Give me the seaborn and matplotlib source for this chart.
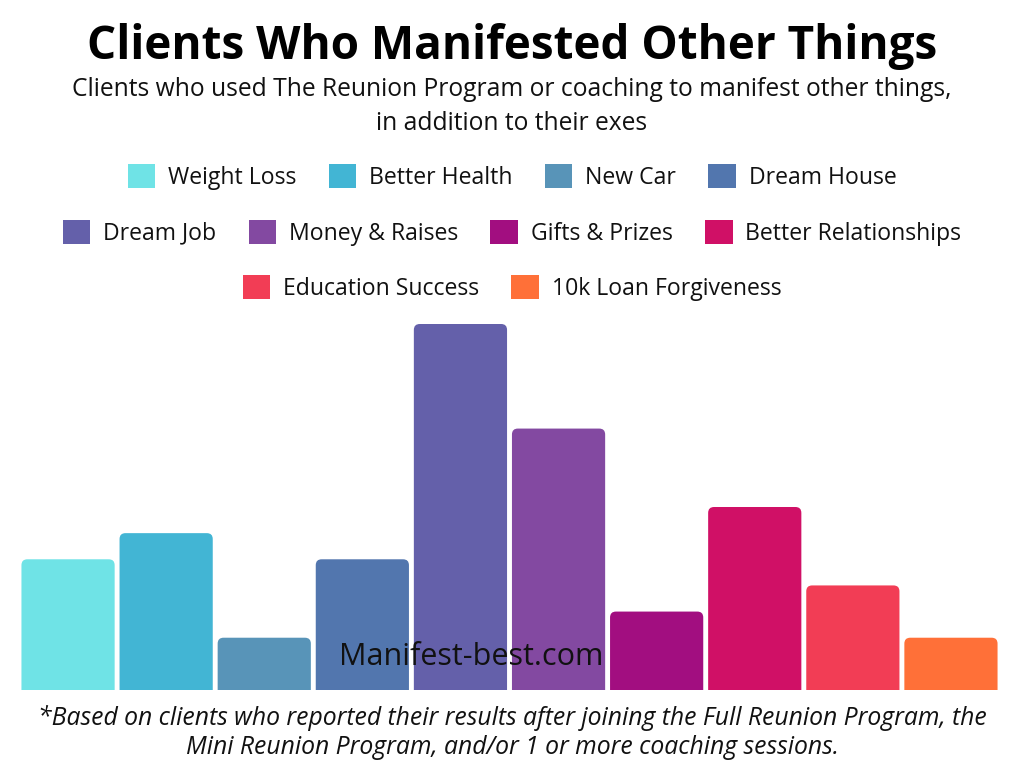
import matplotlib
matplotlib.use("Agg")
import matplotlib.pyplot as plt
import seaborn as sns
import pandas as pd
from matplotlib.patches import Patch, FancyBboxPatch

# data (relative units)
categories = ["Weight Loss", "Better Health", "New Car", "Dream House", "Dream Job",
              "Money & Raises", "Gifts & Prizes", "Better Relationships",
              "Education Success", "10k Loan Forgiveness"]
values = [5, 6, 2, 5, 14, 10, 3, 7, 4, 2]
colors = ["#6FE3E6", "#42B5D4", "#5894B8", "#5276AE", "#6460AA",
          "#8349A1", "#A20E80", "#D01066", "#F23D55", "#FF7038"]
legend_rows = [categories[0:4], categories[4:8], categories[8:10]]

df = pd.DataFrame({"category": categories, "value": values})

sns.set_theme(style="white")
plt.rcParams["font.family"] = ["Open Sans", "DejaVu Sans"]

fig = plt.figure(figsize=(10.24, 7.68), dpi=100)
ax = fig.add_axes([19 / 1024, 78 / 768, 981 / 1024, 366 / 768])

sns.barplot(data=df, x="category", y="value", hue="category", palette=colors,
            order=categories, hue_order=categories, width=0.95, legend=False,
            saturation=1, ax=ax)

ax.set_xlim(-0.5, len(categories) - 0.5)
ax.set_ylim(0, max(values))

# swap the plain rectangles for bars with slightly rounded tops
px_x = 981 / len(categories)
px_y = 366 / max(values)
for patch in list(ax.patches):
    x, w, h = patch.get_x(), patch.get_width(), patch.get_height()
    fc = patch.get_facecolor()
    patch.remove()
    ax.add_patch(FancyBboxPatch((x, -0.5), w, h + 0.5,
                                boxstyle="round,pad=0,rounding_size=0.06",
                                mutation_aspect=px_x / px_y,
                                facecolor=fc, edgecolor="none", clip_on=True))

ax.set_xlabel("")
ax.set_ylabel("")
ax.set_xticks([])
ax.set_yticks([])
sns.despine(ax=ax, left=True, bottom=True)

# titles
fig.text(0.5, 1 - 47 / 768, "Clients Who Manifested Other Things", ha="center", va="center",
         fontsize=33, fontweight="bold", color="black")
fig.text(0.5, 1 - 90 / 768, "Clients who used The Reunion Program or coaching to manifest other things,",
         ha="center", va="center", fontsize=17.7, color="#111111")
fig.text(0.5, 1 - 123 / 768, "in addition to their exes",
         ha="center", va="center", fontsize=17.7, color="#111111")

# legend, three centred rows
color_map = dict(zip(categories, colors))
row_y = [177, 233, 288]
for row, y in zip(legend_rows, row_y):
    handles = [Patch(facecolor=color_map[c], edgecolor="none", label=c) for c in row]
    fig.legend(handles=handles, loc="center", bbox_to_anchor=(0.5, 1 - y / 768),
               ncol=len(row), frameon=False, fontsize=16.6, handlelength=1.2,
               handleheight=1.2, handletextpad=0.55, columnspacing=1.4,
               labelcolor="#111111")

# watermark
fig.text(471 / 1024, 1 - 657 / 768, "Manifest-best.com", ha="center", va="center",
         fontsize=22, color="#111111")

# footnote
fig.text(0.5, 1 - 718 / 768,
         "*Based on clients who reported their results after joining the Full Reunion Program, the",
         ha="center", va="center", fontsize=17.8, style="italic", color="#111111")
fig.text(0.5, 1 - 748 / 768,
         "Mini Reunion Program, and/or 1 or more coaching sessions.",
         ha="center", va="center", fontsize=17.8, style="italic", color="#111111")

fig.savefig("out.png", dpi=100, facecolor="white")
